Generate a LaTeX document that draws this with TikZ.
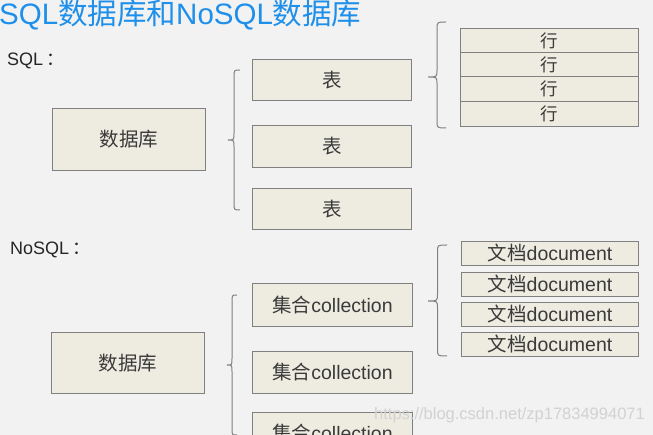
\documentclass[tikz,border=0pt]{standalone}
\usepackage{fontspec}
\setmainfont{Liberation Sans}
\newfontfamily\cjk{Noto Sans CJK SC}
\definecolor{bg}{HTML}{F2F2F2}
\definecolor{boxfill}{HTML}{EEECE1}
\definecolor{boxline}{HTML}{808080}
\definecolor{txt}{HTML}{3A3A3A}
\definecolor{title}{HTML}{1E8FEA}
\definecolor{wm}{HTML}{D2D2D2}
\tikzset{
  cell/.style={draw=boxline, line width=1pt, fill=boxfill, text=txt, inner sep=0pt, anchor=north west, align=center},
  bigbox/.style={cell, font=\fontsize{19.5}{20}\selectfont},
  smallbox/.style={cell, font=\fontsize{19.5}{20}\selectfont},
  rowbox/.style={cell, font=\fontsize{17.5}{18}\selectfont},
  bracestyle/.style={draw=boxline, line width=1pt},
}
\newcommand{\mybrace}[5]{% R T y1 ym y2
  \path[bracestyle] (#1,#3) .. controls ({(#1+#2)/2},#3) .. ({(#1+#2)/2},#3+7) -- ({(#1+#2)/2},#4-7) .. controls ({(#1+#2)/2},#4) .. (#2,#4) .. controls ({(#1+#2)/2},#4) .. ({(#1+#2)/2},#4+7) -- ({(#1+#2)/2},#5-7) .. controls ({(#1+#2)/2},#5) .. (#1,#5);
}
\begin{document}
\begin{tikzpicture}[x=1pt,y=-1pt]
\useasboundingbox (0,0) rectangle (653,435);
\clip (0,0) rectangle (653,435);
\fill[bg] (0,0) rectangle (653,435);
% title
\node[anchor=west, text=title, inner sep=0pt, font=\fontsize{29.5}{30}\selectfont] (ttl) at (-1,15) {SQL{\cjk 数据库和}NoSQL{\cjk 数据库}};
% SQL section
\node[anchor=west, text=black!85, inner sep=0pt, font=\fontsize{18}{19}\selectfont] (sqllbl) at (7,61) {SQL\,{\cjk ：}};
\node[bigbox, minimum width=153pt, minimum height=62pt] (db1) at (52,108) {\cjk 数据库};
\node[bigbox, minimum width=159pt, minimum height=41pt] (t1) at (252,59) {\cjk 表};
\node[bigbox, minimum width=159pt, minimum height=42pt] (t2) at (252,125) {\cjk 表};
\node[bigbox, minimum width=159pt, minimum height=41pt] (t3) at (252,188) {\cjk 表};
\node[rowbox, minimum width=178pt, minimum height=24pt] (r1) at (460,28) {\cjk 行};
\node[rowbox, minimum width=178pt, minimum height=24pt] (r2) at (460,52) {\cjk 行};
\node[rowbox, minimum width=178pt, minimum height=25pt] (r3) at (460,76) {\cjk 行};
\node[rowbox, minimum width=178pt, minimum height=25pt] (r4) at (460,101) {\cjk 行};
\mybrace{240}{228}{70}{140}{210}
\mybrace{446}{428}{22}{77}{128}
% NoSQL section
\node[anchor=west, text=black!85, inner sep=0pt, font=\fontsize{18}{19}\selectfont] (nosqllbl) at (10,250) {NoSQL\,{\cjk ：}};
\node[bigbox, minimum width=153pt, minimum height=61pt] (db2) at (51,332) {\cjk 数据库};
\node[bigbox, minimum width=160pt, minimum height=43pt] (c1) at (252,283) {{\cjk 集合}collection};
\node[bigbox, minimum width=160pt, minimum height=42pt] (c2) at (252,351) {{\cjk 集合}collection};
\node[bigbox, minimum width=160pt, minimum height=42pt] (c3) at (252,412) {{\cjk 集合}collection};
\node[smallbox, minimum width=177pt, minimum height=24pt] (d1) at (461,241) {{\cjk 文档}document};
\node[smallbox, minimum width=177pt, minimum height=24pt] (d2) at (461,272) {{\cjk 文档}document};
\node[smallbox, minimum width=177pt, minimum height=24pt] (d3) at (461,302) {{\cjk 文档}document};
\node[smallbox, minimum width=177pt, minimum height=24pt] (d4) at (461,332) {{\cjk 文档}document};
\mybrace{237}{227}{295}{365}{435}
\mybrace{447}{428}{245}{301}{356}
% watermark
\node[anchor=east, text=wm, inner sep=0pt, font=\fontsize{16.5}{17}\selectfont] (wmk) at (645,415) {https://blog.csdn.net/zp17834994071};
\end{tikzpicture}
\end{document}
